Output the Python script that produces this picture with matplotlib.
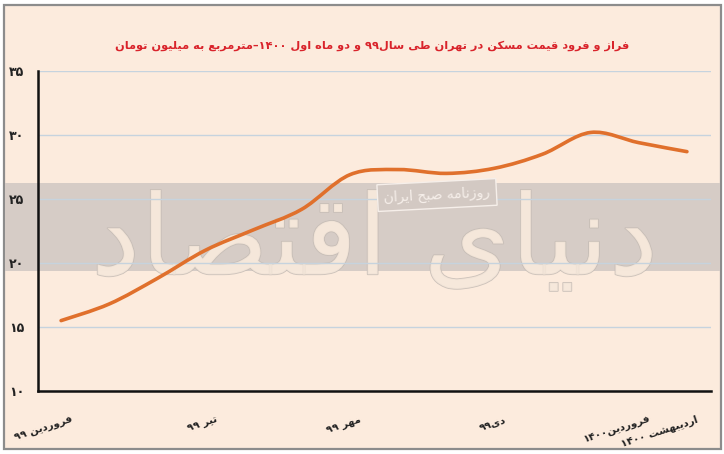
import matplotlib
matplotlib.use("Agg")
import matplotlib.pyplot as plt
import matplotlib.transforms as mtransforms
from matplotlib.path import Path
from matplotlib.patches import PathPatch, Rectangle
import matplotlib.patheffects as pe

# ---------------- data ----------------
title_text = "فراز و فرود قیمت مسکن در تهران طی سال۹۹ و دو ماه اول ۱۴۰۰–مترمربع به میلیون تومان"
month_index = [0, 1, 2, 3, 4, 5, 6, 7, 8, 9, 10, 11, 12, 13]
prices = [15.5, 16.8, 18.8, 21.0, 22.6, 24.2, 26.9, 27.3, 27.0, 27.4, 28.5, 30.2, 29.4, 28.7]
tick_pos = [0, 3, 6, 9, 12, 13]
tick_labels = ["فروردین ۹۹", "تیر ۹۹", "مهر ۹۹", "دی۹۹", "فروردین۱۴۰۰", "اردیبهشت ۱۴۰۰"]
y_ticks = [10, 15, 20, 25, 30, 35]
y_tick_labels = ["۱۰", "۱۵", "۲۰", "۲۵", "۳۰", "۳۵"]
watermark = "دنیای اقتصاد"
watermark_small = "روزنامه صبح ایران"

# ---------------- minimal Persian shaping ----------------
FORMS = {
    'ا': ('\uFE8D', '\uFE8E', None, None),
    'ب': ('\uFE8F', '\uFE90', '\uFE91', '\uFE92'),
    'ت': ('\uFE95', '\uFE96', '\uFE97', '\uFE98'),
    'ج': ('\uFE9D', '\uFE9E', '\uFE9F', '\uFEA0'),
    'ح': ('\uFEA1', '\uFEA2', '\uFEA3', '\uFEA4'),
    'د': ('\uFEA9', '\uFEAA', None, None),
    'ر': ('\uFEAD', '\uFEAE', None, None),
    'ز': ('\uFEAF', '\uFEB0', None, None),
    'س': ('\uFEB1', '\uFEB2', '\uFEB3', '\uFEB4'),
    'ش': ('\uFEB5', '\uFEB6', '\uFEB7', '\uFEB8'),
    'ص': ('\uFEB9', '\uFEBA', '\uFEBB', '\uFEBC'),
    'ط': ('\uFEC1', '\uFEC2', '\uFEC3', '\uFEC4'),
    'ع': ('\uFEC9', '\uFECA', '\uFECB', '\uFECC'),
    'ف': ('\uFED1', '\uFED2', '\uFED3', '\uFED4'),
    'ق': ('\uFED5', '\uFED6', '\uFED7', '\uFED8'),
    'ک': ('\uFB8E', '\uFB8F', '\uFB90', '\uFB91'),
    'ل': ('\uFEDD', '\uFEDE', '\uFEDF', '\uFEE0'),
    'م': ('\uFEE1', '\uFEE2', '\uFEE3', '\uFEE4'),
    'ن': ('\uFEE5', '\uFEE6', '\uFEE7', '\uFEE8'),
    'ه': ('\uFEE9', '\uFEEA', '\uFEEB', '\uFEEC'),
    'و': ('\uFEED', '\uFEEE', None, None),
    'ی': ('\uFBFC', '\uFBFD', '\uFBFE', '\uFBFF'),
}
DIGITS = set("0123456789۰۱۲۳۴۵۶۷۸۹")


def shape(s):
    out = []
    for i, c in enumerate(s):
        if c not in FORMS:
            out.append(c)
            continue
        prev = s[i - 1] if i > 0 else None
        nxt = s[i + 1] if i + 1 < len(s) else None
        jp = prev in FORMS and FORMS[prev][2] is not None
        jn = FORMS[c][2] is not None and nxt in FORMS
        if jp and jn:
            out.append(FORMS[c][3])
        elif jp:
            out.append(FORMS[c][1])
        elif jn:
            out.append(FORMS[c][2])
        else:
            out.append(FORMS[c][0])
    shaped = "".join(out)
    # visual order for RTL: digit runs keep LTR order
    runs = []
    for ch in shaped:
        isd = ch in DIGITS
        if runs and runs[-1][0] == isd:
            runs[-1][1].append(ch)
        else:
            runs.append([isd, [ch]])
    vis = []
    for isd, chars in reversed(runs):
        vis.append("".join(chars) if isd else "".join(reversed(chars)))
    return "".join(vis)


plt.rcParams['font.family'] = ['DejaVu Sans']

BG = "#FCEBDD"
fig = plt.figure(figsize=(7.24, 4.54), dpi=100)
fig.patch.set_facecolor("white")

# outer frame
frame = Rectangle((4 / 724, 5 / 454), 717 / 724, 444 / 454, transform=fig.transFigure,
                  facecolor=BG, edgecolor="#8C8C8C", linewidth=1.6, zorder=-5)
fig.patches.append(frame)

ax = fig.add_axes([38 / 724, 63 / 454, 673 / 724, 320 / 454])
ax.set_facecolor("none")
ax.set_xlim(-0.48, 13.5)
ax.set_ylim(10, 35)

# grey band across the whole frame
btrans = mtransforms.blended_transform_factory(fig.transFigure, ax.transData)
band = Rectangle((5 / 724, 19.4), 715 / 724, 26.25 - 19.4, transform=btrans,
                 facecolor="#D6CCC6", edgecolor="none", zorder=0.1, clip_on=False)
ax.add_patch(band)

# watermark
ax.text(0.5, 0.46, shape(watermark), transform=ax.transAxes, ha="center", va="center",
        fontsize=80, color="#F6E8DB", zorder=0.3, alpha=0.85,
        path_effects=[pe.withStroke(linewidth=1.2, foreground="#C4BBB4")])
fig.text(437 / 724, 1 - 195 / 454, shape(watermark_small), ha="center", va="center",
         fontsize=10, color="#F6EFEA", rotation=3, zorder=0.4,
         bbox=dict(boxstyle="square,pad=0.45", facecolor="#D3C9C3", edgecolor="#F6EFEA", linewidth=1))

# grid
ax.set_yticks(y_ticks)
ax.set_yticklabels(y_tick_labels, fontsize=9, fontweight="bold", color="#222222")
ax.yaxis.grid(True, color="#C6D3DE", linewidth=1.0, zorder=0.2)
ax.set_axisbelow(True)
ax.tick_params(axis="y", length=0, pad=10)
ax.set_xticks([])

for s in ["top", "right"]:
    ax.spines[s].set_visible(False)
for s in ["left", "bottom"]:
    ax.spines[s].set_color("#111111")
    ax.spines[s].set_linewidth(1.8)
    ax.spines[s].set_zorder(3)

# smooth line through monthly values (Catmull-Rom as cubic Bezier)
pts = list(zip(month_index, prices))
verts = [pts[0]]
codes = [Path.MOVETO]
n = len(pts)
for i in range(n - 1):
    p0 = pts[i - 1] if i > 0 else pts[i]
    p1 = pts[i]
    p2 = pts[i + 1]
    p3 = pts[i + 2] if i + 2 < n else pts[i + 1]
    c1 = (p1[0] + (p2[0] - p0[0]) / 6, p1[1] + (p2[1] - p0[1]) / 6)
    c2 = (p2[0] - (p3[0] - p1[0]) / 6, p2[1] - (p3[1] - p1[1]) / 6)
    verts += [c1, c2, p2]
    codes += [Path.CURVE4] * 3
line = PathPatch(Path(verts, codes), facecolor="none", edgecolor="#E0702C",
                 linewidth=2.6, capstyle="round", joinstyle="round",
                 transform=ax.transData, zorder=2)
ax.add_patch(line)

# x labels (rotated)
xtrans = mtransforms.blended_transform_factory(ax.transData, ax.transAxes)
off = mtransforms.ScaledTranslation(11 / 100, -28 / 100, fig.dpi_scale_trans)
for p, lab in zip(tick_pos, tick_labels):
    ax.text(p, 0, shape(lab), transform=xtrans + off, ha="right", va="center",
            rotation=18, rotation_mode="anchor", fontsize=7.5, fontweight="bold",
            color="#222222", clip_on=False)

# title
fig.text(372 / 724, 1 - 46 / 454, shape(title_text), ha="center", va="center",
         fontsize=8.2, fontweight="bold", color="#D9232B")

fig.savefig("out.png", dpi=100, facecolor=fig.get_facecolor())
